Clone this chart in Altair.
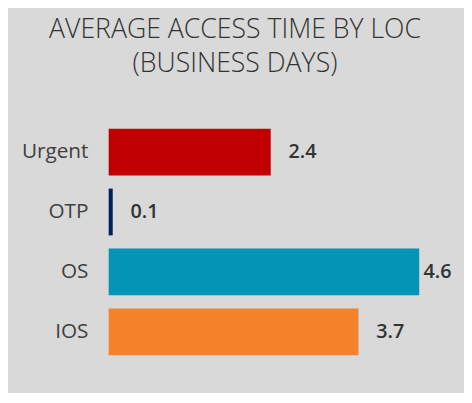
import altair as alt
import pandas as pd

categories = ["Urgent", "OTP", "OS", "IOS"]
values = [2.4, 0.06, 4.6, 3.7]
colors = ["#C00000", "#002060", "#0494B5", "#F5822A"]

df = pd.DataFrame({"loc": categories, "value": values, "color": colors})

font = "Open Sans"

base = alt.Chart(df).encode(
    y=alt.Y("loc:N", sort=categories, title=None,
            scale=alt.Scale(paddingInner=0.22, paddingOuter=0.11),
            axis=alt.Axis(domain=False, ticks=False, labelPadding=21,
                          labelFontSize=21, labelFont=font, labelColor="#404040",
                          labelFontWeight="normal"))
)

bars = base.mark_bar().encode(
    x=alt.X("value:Q", scale=alt.Scale(domain=[0, 5], nice=False), axis=None),
    color=alt.Color("color:N", scale=None),
)

labels = base.transform_calculate(
    lx="min(datum.value, 4.4)",
    label="format(datum.value, '.1f')",
).mark_text(align="left", baseline="middle", dx=18, fontSize=20,
            font=font, fontWeight=600, color="#333333").encode(
    x=alt.X("lx:Q", scale=alt.Scale(domain=[0, 5], nice=False), axis=None),
    text="label:N",
)

chart = (bars + labels).properties(
    width=342, height=243,
    title=alt.Title(["AVERAGE ACCESS TIME BY LOC", "(BUSINESS DAYS)"],
                    fontSize=27, font=font, fontWeight=300, color="#333333",
                    lineHeight=34, anchor="middle", dx=-43, offset=45),
    autosize=alt.AutoSizeParams(type="none"),
    padding={"left": 102, "top": 113, "right": 18, "bottom": 29},
    background="#D9D9D9",
).configure_view(stroke=None)

chart.save("out.html", embed_options={"renderer": "svg", "actions": False})
